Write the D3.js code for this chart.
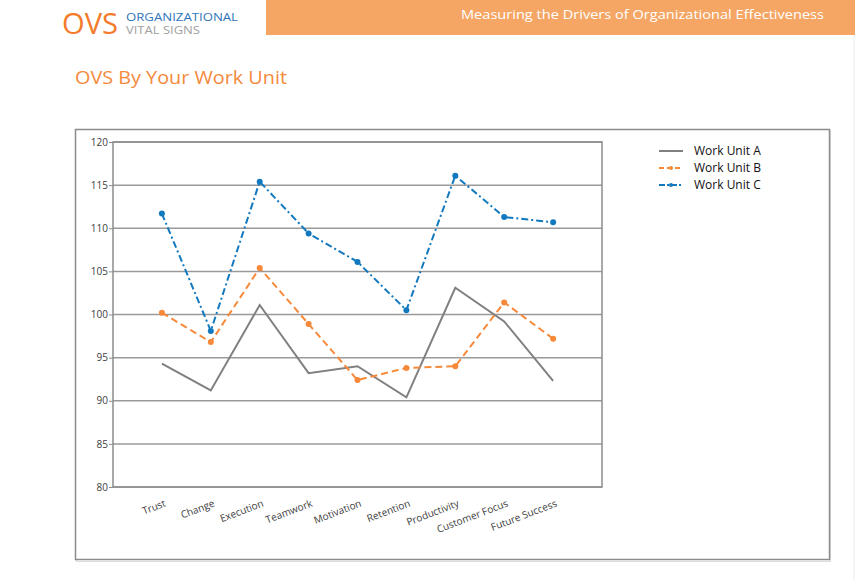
<!DOCTYPE html>
<html><head><meta charset="utf-8">
<script src="https://cdn.jsdelivr.net/npm/d3@7"></script>
<style>body{margin:0;background:#fff;}svg{display:block;}</style>
</head><body>
<script>
const categories = ["Trust","Change","Execution","Teamwork","Motivation","Retention","Productivity","Customer Focus","Future Success"];
const workUnitA = [94.3, 91.2, 101.1, 93.2, 94.0, 90.4, 103.1, 99.2, 92.3];
const workUnitB = [100.2, 96.8, 105.4, 98.9, 92.4, 93.8, 94.0, 101.4, 97.2];
const workUnitC = [111.7, 98.1, 115.4, 109.4, 106.1, 100.5, 116.1, 111.3, 110.7];
const seriesNames = ["Work Unit A","Work Unit B","Work Unit C"];
const yTicks = [80, 85, 90, 95, 100, 105, 110, 115, 120];

(function () {
const W = 855, H = 581;
const svg = d3.select("body").append("svg").attr("width", W).attr("height", H);
const font = "'Open Sans', 'Noto Sans', sans-serif";

// header
svg.append("rect").attr("x", 266).attr("y", 0).attr("width", W - 266).attr("height", 35).attr("fill", "#f5a664");
svg.append("text").attr("x", 461).attr("y", 18.5)
  .attr("font-family", font).attr("font-size", 13.5).attr("fill", "#fff")
  .attr("textLength", 363).attr("lengthAdjust", "spacingAndGlyphs")
  .text("Measuring the Drivers of Organizational Effectiveness");
svg.append("line").attr("x1", 854).attr("x2", 854).attr("y1", 35).attr("y2", H).attr("stroke", "#ececec");
svg.append("text").attr("x", 62).attr("y", 33.5).attr("font-family", font).attr("font-size", 30)
  .attr("fill", "#f47b2c").attr("textLength", 56).attr("lengthAdjust", "spacingAndGlyphs").text("OVS");
svg.append("text").attr("x", 126).attr("y", 20.5).attr("font-family", font).attr("font-size", 11)
  .attr("fill", "#2f76b8").attr("textLength", 112).attr("lengthAdjust", "spacingAndGlyphs").text("ORGANIZATIONAL");
svg.append("text").attr("x", 126).attr("y", 34).attr("font-family", font).attr("font-size", 11)
  .attr("fill", "#a0a0a0").attr("textLength", 74).attr("lengthAdjust", "spacingAndGlyphs").text("VITAL  SIGNS");

svg.append("text").attr("x", 75).attr("y", 84).attr("font-family", font).attr("font-size", 18.5)
  .attr("fill", "#f48a3c").attr("textLength", 212).attr("lengthAdjust", "spacingAndGlyphs")
  .text("OVS By Your Work Unit");

// outer box
svg.append("rect").attr("x", 76.5).attr("y", 130.5).attr("width", 754).attr("height", 431).attr("fill", "none").attr("stroke", "#ddd").attr("stroke-width", 1);
svg.append("rect").attr("x", 75.5).attr("y", 129.5).attr("width", 754).attr("height", 430).attr("fill", "#fff").attr("stroke", "#8c8c8c").attr("stroke-width", 1.5);

const pl = 113, pr = 602, pt = 142, pb = 487;
const x = d3.scalePoint().domain(categories).range([pl, pr]).padding(1);
const y = d3.scaleLinear().domain([80, 120]).range([pb, pt]);

// gridlines
svg.append("g").selectAll("line").data(yTicks).join("line")
  .attr("x1", pl).attr("x2", pr).attr("y1", d => y(d)).attr("y2", d => y(d))
  .attr("stroke", "#9a9a9a").attr("stroke-width", 1.5);
svg.append("rect").attr("x", pl).attr("y", pt).attr("width", pr - pl).attr("height", pb - pt)
  .attr("fill", "none").attr("stroke", "#8c8c8c").attr("stroke-width", 1.5);

// y axis
const yAxis = svg.append("g").attr("transform", `translate(${pl},0)`)
  .call(d3.axisLeft(y).tickValues(yTicks).tickSize(4).tickFormat(d3.format("d")));
yAxis.select(".domain").remove();
yAxis.selectAll("line").attr("stroke", "#8c8c8c");
yAxis.selectAll("text").attr("font-family", font).attr("font-size", 10).attr("fill", "#404040").attr("x", -5);

// x axis labels
const xAxis = svg.append("g").attr("transform", `translate(0,${pb})`)
  .call(d3.axisBottom(x).tickSize(0));
xAxis.select(".domain").remove();
xAxis.selectAll("text").attr("font-family", font).attr("font-size", 10).attr("fill", "#404040")
  .attr("text-anchor", "end").attr("dy", 0).attr("y", 0)
  .attr("transform", "translate(4,19) rotate(-21)");

// lines
const series = [
  {name: seriesNames[0], values: workUnitA, color: "#808080", dash: null, marker: false},
  {name: seriesNames[1], values: workUnitB, color: "#f7893a", dash: "7,4", marker: true},
  {name: seriesNames[2], values: workUnitC, color: "#1379be", dash: "7,3,2,3", marker: true}
];
const line = d3.line().x((d, i) => x(categories[i])).y(d => y(d));
series.forEach(s => {
  svg.append("path").datum(s.values).attr("d", line).attr("fill", "none")
    .attr("stroke", s.color).attr("stroke-width", 2).attr("stroke-dasharray", s.dash);
  if (s.marker) {
    svg.append("g").selectAll("circle").data(s.values).join("circle")
      .attr("cx", (d, i) => x(categories[i])).attr("cy", d => y(d)).attr("r", 3).attr("fill", s.color);
  }
});

// legend
const lg = svg.append("g");
series.forEach((s, i) => {
  const ly = 151 + i * 17;
  lg.append("line").attr("x1", 659).attr("x2", 683).attr("y1", ly).attr("y2", ly)
    .attr("stroke", s.color).attr("stroke-width", 2).attr("stroke-dasharray", s.dash ? (i === 1 ? "5,3" : "6,2,2,2") : null);
  if (s.marker) lg.append("circle").attr("cx", 671).attr("cy", ly).attr("r", 2).attr("fill", s.color);
  lg.append("text").attr("x", 694).attr("y", ly + 4).attr("font-family", font).attr("font-size", 12)
    .attr("fill", "#111").text(s.name);
});
})();
</script>
</body></html>
